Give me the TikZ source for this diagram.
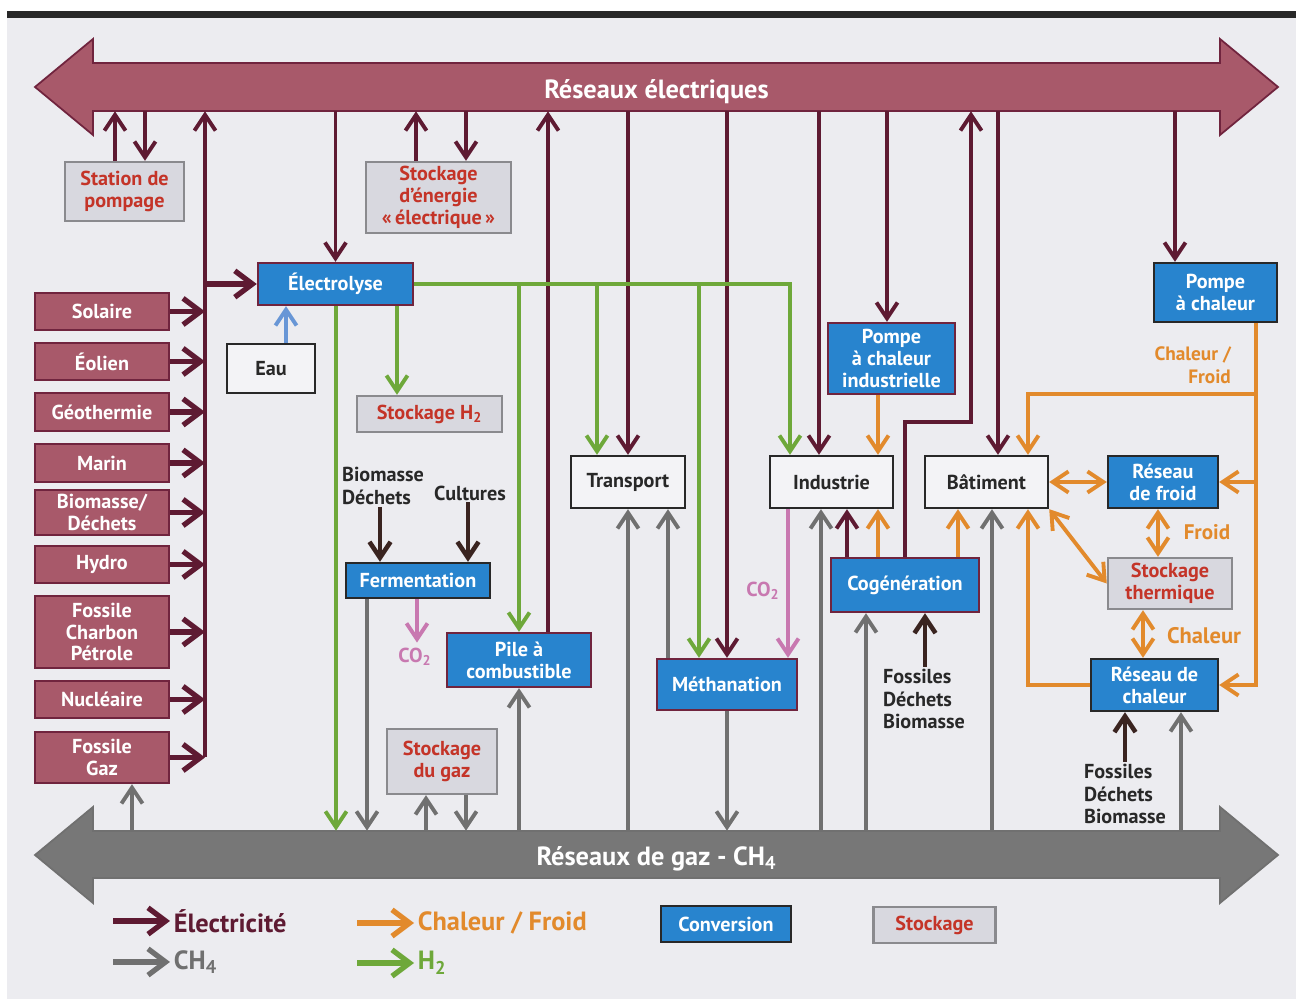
\documentclass[tikz,border=0pt]{standalone}
\usepackage{fontspec}
\setmainfont{PT Sans}
\usepackage{xcolor}
\definecolor{elecline}{RGB}{94,26,50}
\definecolor{elecfill}{RGB}{168,89,106}
\definecolor{srcdraw}{RGB}{112,36,62}
\definecolor{gasgray}{RGB}{112,112,112}
\definecolor{h2green}{RGB}{110,168,58}
\definecolor{heatorange}{RGB}{226,138,44}
\definecolor{convblue}{RGB}{40,132,206}
\definecolor{storefill}{RGB}{216,216,223}
\definecolor{storedraw}{RGB}{138,138,142}
\definecolor{storered}{RGB}{196,52,40}
\definecolor{co2pink}{RGB}{200,120,176}
\definecolor{inbrown}{RGB}{58,36,32}
\definecolor{waterblue}{RGB}{104,150,214}
\definecolor{panel}{RGB}{236,236,240}
\definecolor{usefill}{RGB}{243,243,246}
\definecolor{darktext}{RGB}{40,40,40}
\usepackage{tikz}
\usetikzlibrary{arrows.meta}
\newcommand{\pxu}{0.02cm}
\tikzset{
    every node/.style={font=\bfseries\fontsize{11.5}{12.5}\selectfont, inner sep=1pt},
    box/.style={rectangle, align=center, line width=1.4pt},
    source/.style={box, fill=elecfill, draw=srcdraw, text=white, minimum width=134*\pxu},
    conv/.style={box, fill=convblue, draw=darktext, text=white},
    convm/.style={conv, draw=srcdraw},
    store/.style={box, fill=storefill, draw=storedraw, text=storered},
    use/.style={box, fill=usefill, draw=darktext, text=darktext},
    bartext/.style={text=white, font=\bfseries\fontsize{15}{17}\selectfont, text height=12.7pt, text depth=0pt},
    inlabel/.style={text=darktext, align=left, font=\bfseries\fontsize{11.5}{13}\selectfont},
    heatlabel/.style={text=heatorange, font=\bfseries\fontsize{11}{12.8}\selectfont},
    co2label/.style={text=co2pink},
    keytext/.style={font=\bfseries\fontsize{15}{17}\selectfont, anchor=west, inner sep=2pt},
    flow/.style={line width=2.2pt},
    elec/.style={flow, draw=elecline},
    h2/.style={flow, draw=h2green},
    ch4/.style={flow, draw=gasgray},
    heat/.style={flow, draw=heatorange},
    co2/.style={flow, draw=co2pink},
    water/.style={flow, draw=waterblue},
    input/.style={flow, line width=2.6pt, draw=inbrown},
    feed/.style={line width=3pt, -{Straight Barb[length=10pt,width=15pt]}}
}

\begin{document}
\begin{tikzpicture}[x=\pxu, y=-\pxu, >={Straight Barb[length=9pt,width=12pt]}]
    \useasboundingbox (0,0) rectangle (1296,999);
    \fill[white] (0,0) rectangle (1296,999);
    \fill[panel] (7,18) rectangle (1296,999);
    \fill[darktext] (7,11) rectangle (1296,18);

    \filldraw[fill=elecfill, draw=srcdraw, line width=1pt]
        (35,87) -- (93,39) -- (93,63) -- (1220,63) -- (1220,39) -- (1278,87)
        -- (1220,135) -- (1220,111) -- (93,111) -- (93,135) -- cycle;
    \filldraw[fill=gasgray!95!white, draw=gasgray, line width=1pt]
        (35,855) -- (93,807) -- (93,831) -- (1220,831) -- (1220,807) -- (1278,855)
        -- (1220,903) -- (1220,878) -- (93,878) -- (93,903) -- cycle;
    \node[bartext, minimum width=1127*\pxu, minimum height=48*\pxu] (elecbar) at (656.5,87) {Réseaux électriques};
    \node[bartext, minimum width=1127*\pxu, minimum height=47*\pxu] (gasbar) at (656.5,854.5) {Réseaux de gaz - CH\textsubscript{4}};

    \node[source, minimum height=37*\pxu] (solaire) at (102,311.5) {Solaire};
    \node[source, minimum height=37*\pxu] (eolien) at (102,361.5) {Éolien};
    \node[source, minimum height=38*\pxu] (geothermie) at (102,412) {Géothermie};
    \node[source, minimum height=38*\pxu] (marin) at (102,463) {Marin};
    \node[source, minimum height=45*\pxu] (biomasse) at (102,512.5) {Biomasse/\\Déchets};
    \node[source, minimum height=37*\pxu] (hydro) at (102,564.5) {Hydro};
    \node[source, minimum height=72*\pxu] (charbon) at (102,632) {Fossile\\Charbon\\Pétrole};
    \node[source, minimum height=37*\pxu] (nucleaire) at (102,699.5) {Nucléaire};
    \node[source, minimum height=51*\pxu] (gaz) at (102,757.5) {Fossile\\Gaz};

    \node[store, minimum width=119*\pxu, minimum height=59*\pxu] (pompage) at (124.5,191.5) {Station de\\pompage};
    \node[store, minimum width=145*\pxu, minimum height=71*\pxu] (stockelec) at (438.5,197.5) {Stockage\\d’énergie\\«\,électrique\,»};
    \node[convm, minimum width=155*\pxu, minimum height=42*\pxu] (electrolyse) at (335.5,284) {Électrolyse};
    \node[use, minimum width=88*\pxu, minimum height=49*\pxu] (eau) at (271,368.5) {Eau};
    \node[store, minimum width=145*\pxu, minimum height=36*\pxu] (stockh2) at (429.5,414) {Stockage H\textsubscript{2}};
    \node[conv, minimum width=144*\pxu, minimum height=35*\pxu] (fermentation) at (418,580.5) {Fermentation};
    \node[convm, minimum width=144*\pxu, minimum height=54*\pxu] (pile) at (519,660) {Pile à\\combustible};
    \node[store, minimum width=110*\pxu, minimum height=65*\pxu] (stockgaz) at (442,761.5) {Stockage\\du gaz};
    \node[use, minimum width=114*\pxu, minimum height=52*\pxu] (transport) at (628,482) {Transport};
    \node[convm, minimum width=140*\pxu, minimum height=51*\pxu] (methanation) at (727,684.5) {Méthanation};
    \node[use, minimum width=123*\pxu, minimum height=52*\pxu] (industrie) at (831.5,482) {Industrie};
    \node[convm, minimum width=127*\pxu, minimum height=71*\pxu] (pacind) at (891.5,358.5) {Pompe\\à chaleur\\industrielle};
    \node[convm, minimum width=148*\pxu, minimum height=54*\pxu] (cogen) at (905,585) {Cogénération};
    \node[use, minimum width=123*\pxu, minimum height=52*\pxu] (batiment) at (986.5,482) {Bâtiment};
    \node[conv, minimum width=123*\pxu, minimum height=59*\pxu] (pac) at (1215.5,292.5) {Pompe\\à chaleur};
    \node[conv, minimum width=110*\pxu, minimum height=52*\pxu] (froid) at (1163,482) {Réseau\\de froid};
    \node[store, minimum width=124*\pxu, minimum height=51*\pxu] (stocktherm) at (1170,583.5) {Stockage\\thermique};
    \node[conv, minimum width=127*\pxu, minimum height=52*\pxu] (chaleur) at (1154.5,685) {Réseau de\\chaleur};

    \node[inlabel, anchor=west] (biomdechets) at (340,486) {Biomasse\\Déchets};
    \node[inlabel] (cultures) at (470,493) {Cultures};
    \node[co2label] (co2ferm) at (415,657) {CO\textsubscript{2}};
    \node[co2label] (co2ind) at (763,591) {CO\textsubscript{2}};
    \node[inlabel, anchor=west] (fossilescog) at (881,699) {Fossiles\\Déchets\\Biomasse};
    \node[inlabel, anchor=west] (fossilesch) at (1082,794) {Fossiles\\Déchets\\Biomasse};
    \node[heatlabel, align=right, anchor=east] (chfroid) at (1233,365) {Chaleur /\\Froid};
    \node[heatlabel, font=\bfseries\fontsize{12}{13}\selectfont] (lblfroid) at (1207,532) {Froid};
    \node[heatlabel, font=\bfseries\fontsize{12.8}{14}\selectfont] (lblchaleur) at (1204,636) {Chaleur};

    \foreach \s in {solaire,eolien,geothermie,marin,biomasse,hydro,charbon,nucleaire,gaz}
        \draw[elec, feed] (\s.east) -- (\s.east -| 205,0);

    \draw[elec,->] (pompage.north -| 115,0) -- (elecbar.south -| 115,0);
    \draw[elec,->] (elecbar.south -| 145,0) -- (pompage.north -| 145,0);
    \draw[elec,->] (stockelec.north -| 416,0) -- (elecbar.south -| 416,0);
    \draw[elec,->] (elecbar.south -| 466,0) -- (stockelec.north -| 466,0);
    \draw[elec,->] (gaz.east -| 205,0) -- (elecbar.south -| 205,0);
    \draw[elec, feed] (electrolyse.west -| 205,0) -- (electrolyse.west);
    \draw[elec,->] (elecbar.south -| electrolyse.north) -- (electrolyse.north);
    \draw[elec,->] (pile.north -| 548,0) -- (elecbar.south -| 548,0);
    \draw[elec,->] (elecbar.south -| transport.north) -- (transport.north);
    \draw[elec,->] (elecbar.south -| methanation.north) -- (methanation.north);
    \draw[elec,->] (elecbar.south -| 819,0) -- (industrie.north -| 819,0);
    \draw[elec,->] (elecbar.south -| 887,0) -- (pacind.north -| 887,0);
    \draw[elec,->] (cogen.north) -- ++(0,-135) -| (elecbar.south -| 971,0);
    \draw[elec,->] (elecbar.south -| 998,0) -- (batiment.north -| 998,0);
    \draw[elec,->] (elecbar.south -| 1175,0) -- (pac.north -| 1175,0);
    \draw[elec,->] (cogen.north -| 847,0) -- (industrie.south -| 847,0);

    \draw[h2,->] (electrolyse.east) -| (industrie.north -| 790,0);
    \draw[h2,->] (electrolyse.east -| pile.north) -- (pile.north);
    \draw[h2,->] (electrolyse.east -| 597,0) -- (transport.north -| 597,0);
    \draw[h2,->] (electrolyse.east -| 699,0) -- (methanation.north -| 699,0);
    \draw[h2,->] (electrolyse.south -| 397,0) -- (stockh2.north -| 397,0);
    \draw[h2,->] (electrolyse.south -| 336,0) -- (gasbar.north -| 336,0);

    \draw[ch4,->] (gasbar.north -| 132,0) -- (gaz.south -| 132,0);
    \draw[ch4,->] (fermentation.south -| 367,0) -- (gasbar.north -| 367,0);
    \draw[ch4,->] (gasbar.north -| 426,0) -- (stockgaz.south -| 426,0);
    \draw[ch4,->] (stockgaz.south -| 466,0) -- (gasbar.north -| 466,0);
    \draw[ch4,->] (gasbar.north -| pile.south) -- (pile.south);
    \draw[ch4,->] (gasbar.north -| transport.south) -- (transport.south);
    \draw[ch4,->] (methanation.north -| 668,0) -- (transport.south -| 668,0);
    \draw[ch4,->] (methanation.south) -- (gasbar.north -| methanation.south);
    \draw[ch4,->] (gasbar.north -| 821,0) -- (industrie.south -| 821,0);
    \draw[ch4,->] (gasbar.north -| 866,0) -- (cogen.south -| 866,0);
    \draw[ch4,->] (gasbar.north -| 992,0) -- (batiment.south -| 992,0);
    \draw[ch4,->] (gasbar.north -| 1181,0) -- (chaleur.south -| 1181,0);

    \draw[heat,->] (pacind.south -| 878,0) -- (industrie.north -| 878,0);
    \draw[heat,->] (cogen.north -| 878,0) -- (industrie.south -| 878,0);
    \draw[heat,->] (cogen.north -| 958,0) -- (batiment.south -| 958,0);
    \draw[heat,->] (chaleur.west) -| (batiment.south -| 1028,0);
    \draw[heat,->] (pac.south -| 1256,0) |- (chaleur.east);
    \draw[heat,->] (froid.east -| 1256,0) -- (froid.east);
    \draw[heat,->] (pac.south -| 1256,0) -- ++(0,71) -| (batiment.north -| 1028,0);
    \draw[heat,<->] (batiment.east) -- (froid.west);
    \draw[heat,<->] (froid.south -| 1158,0) -- (stocktherm.north -| 1158,0);
    \draw[heat,<->] (batiment.south east) -- (stocktherm.west);
    \draw[heat,<->] (stocktherm.south -| 1143,0) -- (chaleur.north -| 1143,0);

    \draw[water,->] (eau.north -| 286,0) -- (electrolyse.south -| 286,0);
    \draw[co2,->, shorten >=2pt] (fermentation.south -| 417,0) -- (co2ferm.north -| 417,0);
    \draw[co2,->] (industrie.south -| 788,0) -- (methanation.north -| 788,0);
    \draw[input,->] (biomdechets.south -| 380,0) -- (fermentation.north -| 380,0);
    \draw[input,->] (cultures.south -| 468,0) -- (fermentation.north -| 468,0);
    \draw[input,->] (fossilescog.north -| 925,0) -- (cogen.south -| 925,0);
    \draw[input,->] (fossilesch.north -| 1125,0) -- (chaleur.south -| 1125,0);

    \coordinate (keyelec) at (113,921);
    \coordinate (keych4) at (113,962);
    \coordinate (keyheat) at (357,923);
    \coordinate (keyh2) at (357,963);
    \node[keytext, text=elecline] (keyelectxt) at (170,921) {Électricité};
    \node[keytext, text=gasgray] (keych4txt) at (170,962) {CH\textsubscript{4}};
    \node[keytext, text=heatorange] (keyheattxt) at (414,923) {Chaleur / Froid};
    \node[keytext, text=h2green] (keyh2txt) at (414,963) {H\textsubscript{2}};
    \draw[elec, feed] (keyelec) -- (keyelectxt.west);
    \draw[ch4, feed] (keych4) -- (keych4txt.west);
    \draw[heat, feed] (keyheat) -- (keyheattxt.west);
    \draw[h2, feed] (keyh2) -- (keyh2txt.west);
    \node[conv, minimum width=130*\pxu, minimum height=36*\pxu] (keyconv) at (726,924) {Conversion};
    \node[store, minimum width=122*\pxu, minimum height=36*\pxu] (keystore) at (934.5,925) {Stockage};
\end{tikzpicture}
\end{document}
